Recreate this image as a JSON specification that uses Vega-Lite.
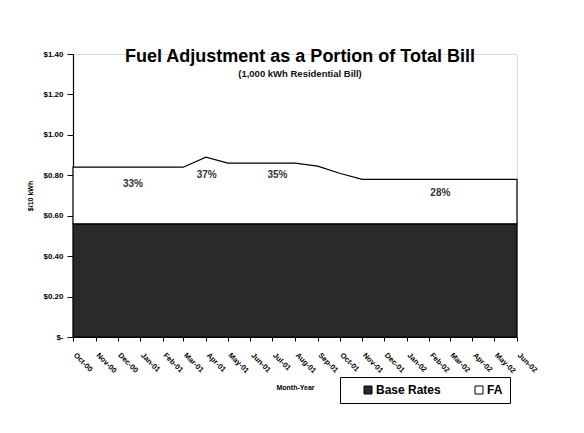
{
  "$schema": "https://vega.github.io/schema/vega-lite/v6.json",
  "width": 444,
  "height": 283,
  "autosize": {"type": "none"},
  "padding": {"left": 73, "top": 54, "right": 67, "bottom": 96},
  "background": "white",
  "title": {
    "text": "Fuel Adjustment as a Portion of Total Bill",
    "subtitle": "(1,000 kWh Residential Bill)",
    "font": "Liberation Sans",
    "fontSize": 18,
    "fontWeight": "bold",
    "color": "black",
    "subtitleFont": "Liberation Sans",
    "subtitleFontSize": 9.5,
    "subtitleFontWeight": "bold",
    "subtitleColor": "#111111",
    "subtitlePadding": 3,
    "anchor": "middle",
    "dx": 5,
    "offset": -28
  },
  "datasets": {
    "bill": [
      {"month": "2000-10-01", "series": "Base Rates", "value": 0.56},
      {"month": "2000-11-01", "series": "Base Rates", "value": 0.56},
      {"month": "2000-12-01", "series": "Base Rates", "value": 0.56},
      {"month": "2001-01-01", "series": "Base Rates", "value": 0.56},
      {"month": "2001-02-01", "series": "Base Rates", "value": 0.56},
      {"month": "2001-03-01", "series": "Base Rates", "value": 0.56},
      {"month": "2001-04-01", "series": "Base Rates", "value": 0.56},
      {"month": "2001-05-01", "series": "Base Rates", "value": 0.56},
      {"month": "2001-06-01", "series": "Base Rates", "value": 0.56},
      {"month": "2001-07-01", "series": "Base Rates", "value": 0.56},
      {"month": "2001-08-01", "series": "Base Rates", "value": 0.56},
      {"month": "2001-09-01", "series": "Base Rates", "value": 0.56},
      {"month": "2001-10-01", "series": "Base Rates", "value": 0.56},
      {"month": "2001-11-01", "series": "Base Rates", "value": 0.56},
      {"month": "2001-12-01", "series": "Base Rates", "value": 0.56},
      {"month": "2002-01-01", "series": "Base Rates", "value": 0.56},
      {"month": "2002-02-01", "series": "Base Rates", "value": 0.56},
      {"month": "2002-03-01", "series": "Base Rates", "value": 0.56},
      {"month": "2002-04-01", "series": "Base Rates", "value": 0.56},
      {"month": "2002-05-01", "series": "Base Rates", "value": 0.56},
      {"month": "2002-06-01", "series": "Base Rates", "value": 0.56},
      {"month": "2000-10-01", "series": "FA", "value": 0.28},
      {"month": "2000-11-01", "series": "FA", "value": 0.28},
      {"month": "2000-12-01", "series": "FA", "value": 0.28},
      {"month": "2001-01-01", "series": "FA", "value": 0.28},
      {"month": "2001-02-01", "series": "FA", "value": 0.28},
      {"month": "2001-03-01", "series": "FA", "value": 0.28},
      {"month": "2001-04-01", "series": "FA", "value": 0.33},
      {"month": "2001-05-01", "series": "FA", "value": 0.30},
      {"month": "2001-06-01", "series": "FA", "value": 0.30},
      {"month": "2001-07-01", "series": "FA", "value": 0.30},
      {"month": "2001-08-01", "series": "FA", "value": 0.30},
      {"month": "2001-09-01", "series": "FA", "value": 0.285},
      {"month": "2001-10-01", "series": "FA", "value": 0.25},
      {"month": "2001-11-01", "series": "FA", "value": 0.22},
      {"month": "2001-12-01", "series": "FA", "value": 0.22},
      {"month": "2002-01-01", "series": "FA", "value": 0.22},
      {"month": "2002-02-01", "series": "FA", "value": 0.22},
      {"month": "2002-03-01", "series": "FA", "value": 0.22},
      {"month": "2002-04-01", "series": "FA", "value": 0.22},
      {"month": "2002-05-01", "series": "FA", "value": 0.22},
      {"month": "2002-06-01", "series": "FA", "value": 0.22}
    ],
    "labels": [
      {"month": "2000-12-22", "value": 0.757, "label": "33%"},
      {"month": "2001-04-02", "value": 0.80, "label": "37%"},
      {"month": "2001-07-08", "value": 0.80, "label": "35%"},
      {"month": "2002-02-16", "value": 0.713, "label": "28%"}
    ]
  },
  "layer": [
    {
      "data": {"name": "bill"},
      "mark": {"type": "area", "stroke": "black", "strokeWidth": 1.2},
      "encoding": {
        "x": {
          "field": "month",
          "type": "temporal",
          "scale": {"type": "utc", "domain": [{"year": 2000, "month": 10, "date": 1, "utc": true}, {"year": 2002, "month": 6, "date": 1, "utc": true}], "nice": false},
          "axis": {
            "title": "Month-Year",
            "labelExpr": "utcFormat(datum.value, '%b-%y')",
            "tickCount": {"interval": "month", "step": 1},
            "labelAngle": 45,
            "labelOverlap": false,
            "labelFont": "Liberation Sans",
            "labelFontSize": 7.5,
            "labelFontWeight": "bold",
            "labelColor": "black",
            "labelPadding": 10,
            "labelOffset": 4,
            "domainColor": "black",
            "domainWidth": 1.2,
            "tickColor": "black",
            "tickSize": 4,
            "grid": false,
            "titleFont": "Liberation Sans",
            "titleFontSize": 7,
            "titleFontWeight": "bold",
            "titleColor": "black",
            "titlePadding": 9
          }
        },
        "y": {
          "field": "value",
          "type": "quantitative",
          "stack": "zero",
          "scale": {"domain": [0, 1.4], "nice": false},
          "axis": {
            "title": "$/10 kWh",
            "values": [0, 0.2, 0.4, 0.6, 0.8, 1.0, 1.2, 1.4],
            "labelExpr": "datum.value == 0 ? '$-' : format(datum.value, '$.2f')",
            "labelFont": "Liberation Sans",
            "labelFontSize": 8,
            "labelFontWeight": "bold",
            "labelColor": "black",
            "labelPadding": 4,
            "domainColor": "black",
            "domainWidth": 1.2,
            "tickColor": "black",
            "tickSize": 6,
            "grid": false,
            "titleFont": "Liberation Sans",
            "titleFontSize": 7,
            "titleFontWeight": "bold",
            "titleColor": "black",
            "titlePadding": 9
          }
        },
        "color": {
          "field": "series",
          "type": "nominal",
          "scale": {"domain": ["Base Rates", "FA"], "range": ["#2a2a2a", "#ffffff"]},
          "legend": {
            "title": null,
            "orient": "none",
            "legendX": 267,
            "legendY": 323,
            "direction": "horizontal",
            "strokeColor": "black",
            "fillColor": "white",
            "padding": 7,
            "symbolType": "square",
            "symbolSize": 64,
            "symbolStrokeColor": "black",
            "symbolStrokeWidth": 1,
            "labelFont": "Liberation Sans",
            "labelFontSize": 12,
            "labelFontWeight": "bold",
            "labelColor": "black",
            "labelOffset": 2,
            "columnPadding": 17,
            "symbolOffset": 15
          }
        },
        "order": {"field": "series", "sort": "ascending"}
      }
    },
    {
      "data": {"name": "labels"},
      "mark": {"type": "text", "font": "Liberation Sans", "fontSize": 10, "fontWeight": "bold", "color": "#333333"},
      "encoding": {
        "x": {"field": "month", "type": "temporal"},
        "y": {"field": "value", "type": "quantitative"},
        "text": {"field": "label"}
      }
    }
  ]
}
